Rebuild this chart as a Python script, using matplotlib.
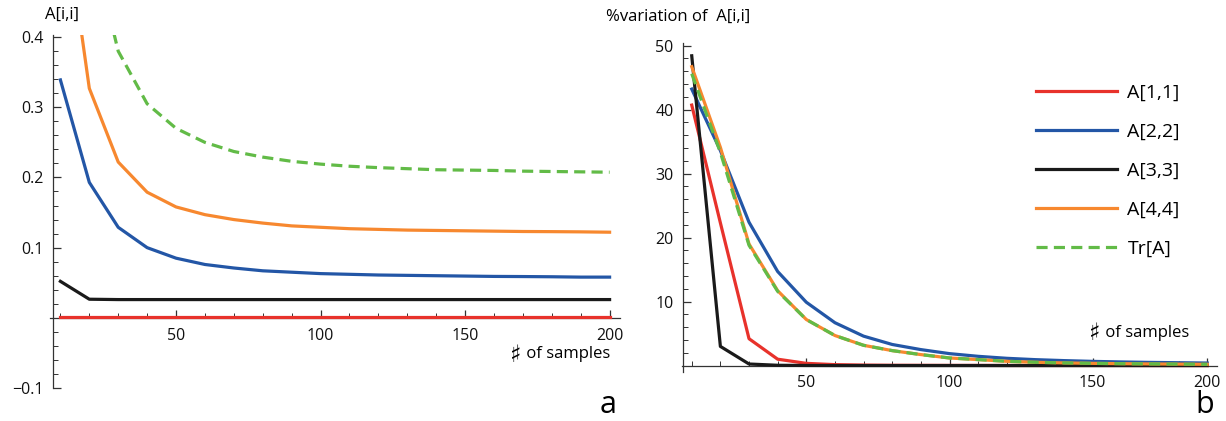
import matplotlib
matplotlib.use("Agg")
import matplotlib.pyplot as plt
from matplotlib.ticker import MultipleLocator

plt.rcParams['font.family'] = ['Open Sans', 'DejaVu Sans']
plt.rcParams['lines.scale_dashes'] = False

# ---------------- data ----------------
samples_a = [10, 20, 30, 40, 50, 60, 70, 80, 90, 100,
             110, 120, 130, 140, 150, 160, 170, 180, 190, 200]
a11 = [0.0005] * 20
a22 = [0.339, 0.193, 0.129, 0.100, 0.085, 0.076, 0.071, 0.067, 0.065, 0.063,
       0.062, 0.061, 0.0605, 0.060, 0.0595, 0.059, 0.0588, 0.0585, 0.058, 0.058]
a33 = [0.052, 0.0265, 0.026, 0.026, 0.026, 0.026, 0.026, 0.026, 0.026, 0.026,
       0.026, 0.026, 0.026, 0.026, 0.026, 0.026, 0.026, 0.026, 0.026, 0.026]
a44 = [0.62, 0.327, 0.222, 0.179, 0.158, 0.147, 0.140, 0.135, 0.131, 0.129,
       0.127, 0.126, 0.125, 0.1245, 0.124, 0.1235, 0.123, 0.1228, 0.1225, 0.122]
tr_a = [1.01, 0.55, 0.38, 0.305, 0.270, 0.250, 0.237, 0.229, 0.223, 0.219,
        0.216, 0.214, 0.2125, 0.211, 0.2105, 0.210, 0.209, 0.2085, 0.208, 0.2075]

samples_b = [10, 20, 30, 40, 50, 60, 70, 80, 90, 100,
             110, 120, 130, 140, 150, 160, 170, 180, 190]
v11 = [40.7, 22.3, 4.2, 1.0, 0.35, 0.15, 0.08, 0.05, 0.04, 0.03,
       0.03, 0.02, 0.02, 0.02, 0.02, 0.02, 0.01, 0.01, 0.01]
v22 = [43.2, 33.6, 22.4, 14.7, 9.9, 6.7, 4.6, 3.3, 2.5, 1.87,
       1.45, 1.14, 0.93, 0.78, 0.66, 0.57, 0.50, 0.45, 0.40]
v33 = [48.4, 3.0, 0.25, 0.05, 0.02, 0.01, 0.01, 0.01, 0.01, 0.01,
       0.01, 0.01, 0.01, 0.01, 0.01, 0.01, 0.01, 0.01, 0.01]
v44 = [46.7, 34.1, 19.0, 11.7, 7.2, 4.7, 3.17, 2.34, 1.72, 1.19,
       0.94, 0.67, 0.52, 0.42, 0.35, 0.30, 0.26, 0.23, 0.20]
vtr = [45.6, 33.3, 18.8, 11.6, 7.2, 4.7, 3.17, 2.34, 1.72, 1.19,
       0.94, 0.67, 0.52, 0.42, 0.35, 0.30, 0.26, 0.23, 0.20]

labels = ['A[1,1]', 'A[2,2]', 'A[3,3]', 'A[4,4]', 'Tr[A]']
yticks_a = [-0.1, 0.1, 0.2, 0.3, 0.4]
yticklabels_a = ['\u22120.1', '0.1', '0.2', '0.3', '0.4']
xticks_a = [50, 100, 150, 200]
yticks_b = [10, 20, 30, 40, 50]
xticks_b = [50, 100, 150, 190]
xticklabels_b = ['50', '100', '150', '200']

# ---------------- style ----------------
c_red = '#E8322B'
c_blue = '#2356A6'
c_black = '#1A1A1A'
c_orange = '#F7882F'
c_green = '#62BB47'
lw = 2.3
dash = (8, 4.5)
axcol = '#333333'

W, H = 1226, 421
fig = plt.figure(figsize=(W / 100, H / 100), dpi=100)


def style_axes(ax, yspine_x):
    for s in ['top', 'right']:
        ax.spines[s].set_visible(False)
    ax.spines['left'].set_position(('data', yspine_x))
    ax.spines['bottom'].set_position(('data', 0))
    for s in ['left', 'bottom']:
        ax.spines[s].set_linewidth(0.9)
        ax.spines[s].set_color(axcol)
    ax.tick_params(which='major', direction='in', length=6, width=0.9,
                   color=axcol, labelsize=11.5, pad=7, labelcolor='#111111')
    ax.tick_params(which='minor', direction='in', length=3.5, width=0.7,
                   color=axcol)
    ax.patch.set_visible(False)


def samples_label(x_right, y_center):
    t = fig.text(x_right / W, 1 - y_center / H, ' of samples', ha='right',
                 va='center', fontsize=12)
    fig.canvas.draw()
    bb = t.get_window_extent()
    fig.text(bb.x0 / W, 1 - (y_center + 0.5) / H, '\u266f', ha='right',
             va='center', fontsize=17, family=['DejaVu Sans'])


# ---------------- panel a ----------------
ax1 = fig.add_axes([50 / W, 1 - 388 / H, 570 / W, 353 / H])
ax1.plot(samples_a, a33, color=c_black, lw=lw, zorder=3)
ax1.plot(samples_a, a11, color=c_red, lw=lw, zorder=4)
ax1.plot(samples_a, a22, color=c_blue, lw=lw, zorder=3)
ax1.plot(samples_a, a44, color=c_orange, lw=lw, zorder=3)
ax1.plot(samples_a, tr_a, color=c_green, lw=lw, dashes=dash, zorder=3)
ax1.set_xlim(6.4, 203.6)
ax1.set_ylim(-0.1, 0.403)
style_axes(ax1, 7.4)
ax1.set_xticks(xticks_a)
ax1.xaxis.set_minor_locator(MultipleLocator(10))
ax1.set_yticks(yticks_a, labels=yticklabels_a)
ax1.yaxis.set_minor_locator(MultipleLocator(0.02))

fig.text(62 / W, 1 - 15 / H, 'A[i,i]', ha='center', va='center', fontsize=12)
samples_label(610, 354)
fig.text(608 / W, 1 - 413 / H, 'a', ha='center', va='baseline', fontsize=22)

# ---------------- panel b ----------------
ax2 = fig.add_axes([682 / W, 1 - 372 / H, 535 / W, 329 / H])
h11, = ax2.plot(samples_b, v11, color=c_red, lw=lw, zorder=3)
h22, = ax2.plot(samples_b, v22, color=c_blue, lw=lw, zorder=3)
h33, = ax2.plot(samples_b, v33, color=c_black, lw=lw, zorder=3)
h44, = ax2.plot(samples_b, v44, color=c_orange, lw=lw, zorder=3)
htr, = ax2.plot(samples_b, vtr, color=c_green, lw=lw, dashes=dash, zorder=4)
ax2.set_xlim(6.6, 193.4)
ax2.set_ylim(-1.0, 50.4)
style_axes(ax2, 7.0)
ax2.set_xticks(xticks_b, labels=xticklabels_b)
ax2.xaxis.set_minor_locator(MultipleLocator(10))
ax2.set_yticks(yticks_b)
ax2.yaxis.set_minor_locator(MultipleLocator(2))

fig.text(606 / W, 1 - 17 / H, '%variation of  A[i,i]', ha='left',
         va='center', fontsize=12)
samples_label(1189, 333)
fig.text(1205 / W, 1 - 413 / H, 'b', ha='center', va='baseline', fontsize=22)

leg = fig.legend([h11, h22, h33, h44, htr], labels,
                 loc='upper left', bbox_to_anchor=(1036 / W, 1 - 84 / H),
                 bbox_transform=fig.transFigure, frameon=False,
                 fontsize=14, handlelength=4.15, handletextpad=0.55,
                 labelspacing=1.08, borderpad=0, borderaxespad=0)

fig.savefig('out.png', dpi=100)
